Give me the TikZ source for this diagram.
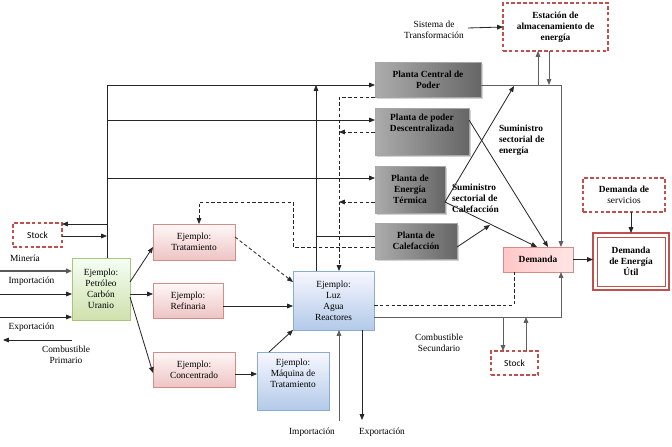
\documentclass[tikz,border=0pt]{standalone}
\usepackage{fontspec}
\setmainfont{Liberation Serif}
\newfontfamily\stockfont{Carlito}
\usetikzlibrary{arrows.meta, calc, shadows}

\definecolor{pinkedge}{RGB}{210,140,138}
\definecolor{pinkfill}{RGB}{238,196,196}
\definecolor{greenedge}{RGB}{170,196,120}
\definecolor{greenfill}{RGB}{208,224,172}
\definecolor{blueedge}{RGB}{140,172,212}
\definecolor{bluefill}{RGB}{178,202,232}
\definecolor{dashred}{RGB}{192,80,77}

\newcommand\diagfont{\fontsize{8}{9.5}\selectfont}

\tikzset{
  >={Triangle[length=5pt,width=4pt]},
  every node/.style={font=\diagfont, align=center, inner sep=0pt, outer sep=0pt},
  boxsize/.style 2 args={minimum width=#1*0.03cm, minimum height=#2*0.03cm},
  pinkbox/.style={draw=pinkedge, line width=0.8pt, top color=red!3, bottom color=pinkfill,
    drop shadow={shadow xshift=1pt, shadow yshift=-1pt, opacity=0.25}},
  greenbox/.style={draw=greenedge, line width=0.8pt, top color=green!4, bottom color=greenfill},
  bluebox/.style={draw=blueedge, line width=0.8pt, top color=blue!3, bottom color=bluefill},
  plantabox/.style={draw=gray!70, line width=0.6pt, left color=gray!65, middle color=gray!12,
    right color=gray!80!black, font=\diagfont\bfseries,
    drop shadow={shadow xshift=1.5pt, shadow yshift=-1.5pt, opacity=0.35}},
  dashbox/.style={draw=dashred, line width=1pt, dash pattern=on 3pt off 2pt, fill=white},
  conn/.style={draw=black!85, line width=0.7pt},
  gconn/.style={draw=gray!75!black, line width=0.7pt},
  dconn/.style={draw=black!85, line width=0.7pt, dash pattern=on 3pt off 2pt}
}

\begin{document}
\begin{tikzpicture}[x=0.03cm, y=-0.03cm]
\useasboundingbox (0,0) rectangle (672,446);

% Primary side
\node[greenbox, boxsize={58}{62}] (prim) at (101,289) {Ejemplo:\\Petróleo\\Carbón\\Uranio};
\node[dashbox, boxsize={49}{24}, font=\stockfont\diagfont] (stockL) at (37.5,235) {Stock};
\node (mineria) at (25,258) {Minería};
\node (impL) at (31.5,281) {Importación};
\node (expL) at (31.5,327) {Exportación};
\node (primario) at (66,355) {Combustible\\Primario};

% Example boxes
\node[pinkbox, boxsize={82}{36}] (trat) at (194,242) {Ejemplo:\\Tratamiento};
\node[pinkbox, boxsize={70}{35}] (refi) at (188,300.5) {Ejemplo:\\Refinaria};
\node[pinkbox, boxsize={82}{35}] (conc) at (194,369.5) {Ejemplo:\\Concentrado};
\node[bluebox, boxsize={81}{59}] (luz) at (333.5,300.5) {Ejemplo:\\Luz\\Agua\\Reactores};
\node[bluebox, boxsize={72}{58}] (maq) at (293,381) {Ejemplo:\\Máquina de\\Tratamiento\\[4pt]};
\node (impB) at (312,432) {Importación};
\node (expB) at (382,432) {Exportación};

% Plants
\node[plantabox, boxsize={106}{35}] (central) at (428,79.5) {Planta Central de\\Poder};
\node[plantabox, boxsize={94}{47}] (descen) at (422,131.5) {Planta de poder\\Descentralizada\\[5pt]};
\node[plantabox, boxsize={70}{47}] (termica) at (410,189.5) {Planta de\\Energía\\Térmica};
\node[plantabox, boxsize={82}{36}] (calef) at (416,241) {Planta de\\Calefacción};

% Demand side
\node[dashbox, boxsize={105}{48}, font=\diagfont\bfseries] (estac) at (555.5,27) {Estación de\\almacenamiento de\\energía};
\node (trans) at (434,30) {Sistema de\\Transformación};
\node[draw=pinkedge, line width=0.8pt, left color=red!22, right color=red!10, boxsize={70}{25},
  font=\diagfont\bfseries, drop shadow={shadow xshift=1pt, shadow yshift=-1pt, opacity=0.25}] (demanda) at (538,259.5) {Demanda};
\node[draw=dashred, line width=2.5pt, fill=white, boxsize={76}{57}, font=\diagfont\bfseries] (util) at (631,261.5) {Demanda\\de Energía\\Útil};
\draw[dashred, line width=0.7pt] ($(util.south west)+(4,-4)$) rectangle ($(util.north east)+(-4,4)$);
\node[dashbox, boxsize={82}{34}] (serv) at (624,195) {\textbf{Demanda de}\\servicios};
\node[dashbox, boxsize={47}{24}, font=\stockfont\diagfont] (stockR) at (514.5,363) {Stock};
\node (secund) at (439,343) {Combustible\\Secundario};
\node[anchor=west, align=left, font=\diagfont\bfseries] (sumE) at (499,140) {Suministro\\sectorial de\\energía};
\node[anchor=west, align=left, font=\diagfont\bfseries] (sumC) at (452,198) {Suministro\\sectorial de\\Calefacción};

% Left bus
\coordinate (busT) at (107,85);
\coordinate (b2) at (107,120);
\coordinate (b3) at (107,178);
\coordinate (b4) at (107,224);
\coordinate (b5) at (107,236);
\draw[conn, ->] (busT |- prim.north) -- (busT) -- (busT -| central.west);
\draw[conn, ->] (b2) -- (b2 -| descen.west);
\draw[conn, ->] (b3) -- (b3 -| termica.west);
\draw[conn, ->] (b4) -- (b4 -| stockL.east);
\draw[conn, ->] (b5 -| stockL.east) -- (b5);

% Primary inputs and outputs
\coordinate (in1) at (0,271);
\coordinate (in2) at (0,294);
\coordinate (in3) at (0,317);
\coordinate (out1) at (3,340);
\draw[gray!70!black, line width=1.4pt, ->] (in1) -- (in1 -| prim.west);
\draw[conn, ->] (in2) -- (in2 -| prim.west);
\draw[conn, ->] (in3) -- (in3 -| prim.west);
\draw[conn, ->] (out1 -| prim.west) -- (out1);

% Primary to examples
\draw[conn, ->] ($(prim.east)+(0,-7)$) -- ($(trat.west)+(0,5)$);
\draw[conn, ->] ($(prim.east)+(0,5)$) -- ($(refi.west)+(0,-6.5)$);
\draw[conn, ->] ($(prim.east)+(0,8)$) -- ($(conc.west)+(0,3.5)$);
\draw[dconn, ->] ($(trat.east)+(0,-5)$) -- ($(luz.west)+(0,-18.5)$);
\draw[conn, ->] ($(refi.east)+(0,5.5)$) -- ($(luz.west)+(0,5.5)$);
\draw[conn, ->] ($(conc.east)+(0,4.5)$) -- ($(maq.west)+(0,-7)$);
\draw[conn, ->] ($(maq.north)+(-24,0)$) -- (luz.south west);

% Import / export under luz
\coordinate (ib) at (339,421);
\coordinate (eb) at (362,420);
\draw[gconn, ->] (ib) -- (ib |- luz.south);
\draw[conn, ->] (eb |- luz.south) -- (eb);

% Luz up to plants
\coordinate (lu) at (316,85);
\coordinate (lc) at (316,236);
\draw[conn, ->] (lu |- luz.north) -- (lu);
\draw[conn] (lc) -- (lc -| calef.west);

% Dashed returns from plants
\coordinate (dv) at (339,97);
\coordinate (d2) at (339,132);
\coordinate (d3) at (339,202);
\draw[dconn, ->] (central.south west) -- (dv) -- (dv |- luz.north);
\draw[dconn, ->] (d2 -| descen.west) -- (d2);
\draw[dconn, ->] (d3 -| termica.west) -- (d3);
\coordinate (c1) at (293,247);
\coordinate (c2) at (293,202);
\coordinate (c3) at (199,202);
\draw[dconn, ->] (c1 -| calef.west) -- (c1) -- (c2) -- (c3) -- (c3 |- trat.north);

% Luz to demand
\coordinate (e1) at (514,305);
\coordinate (e2) at (561,317);
\draw[dconn] (luz.east |- e1) -- (e1) -- (e1 |- demanda.south);
\draw[gconn, ->] (luz.east |- e2) -- (e2) -- (e2 |- demanda.south);
\coordinate (s1) at (503,317);
\coordinate (s2) at (526,317);
\draw[gconn, ->] (s1) -- (s1 |- stockR.north);
\draw[gconn, ->] (s2 |- stockR.north) -- (s2);

% Right bus and storage
\coordinate (r1) at (561,85);
\coordinate (u1) at (538,85);
\coordinate (u2) at (549,85);
\draw[gconn, ->] (r1 -| central.east) -- (r1) -- (r1 |- demanda.north);
\draw[gconn, ->] (u1) -- (u1 |- estac.south);
\draw[gconn, ->] (u2 |- estac.south) -- (u2);
\draw[conn, ->] ($(trans.east)+(4,-2)$) -- ($(estac.west)+(0,0)$);

% Sector supply lines
\coordinate (x1) at (514,86);
\coordinate (x2) at (490,225);
\draw[conn, ->] ($(descen.east)+(0,-11.5)$) -- ($(demanda.north)+(10,0)$);
\draw[conn, ->] ($(termica.east)+(0,12.5)$) -- (x1);
\draw[conn, ->] ($(termica.east)+(0,12.5)$) -- ($(demanda.north)+(-1,0)$);
\draw[conn, ->] ($(calef.east)+(0,6)$) -- (x2);

% Useful demand
\draw[conn, ->] (demanda.east) -- (demanda.east -| util.west);
\draw[conn, ->] (util.north |- serv.south) -- (util.north);
\end{tikzpicture}
\end{document}
